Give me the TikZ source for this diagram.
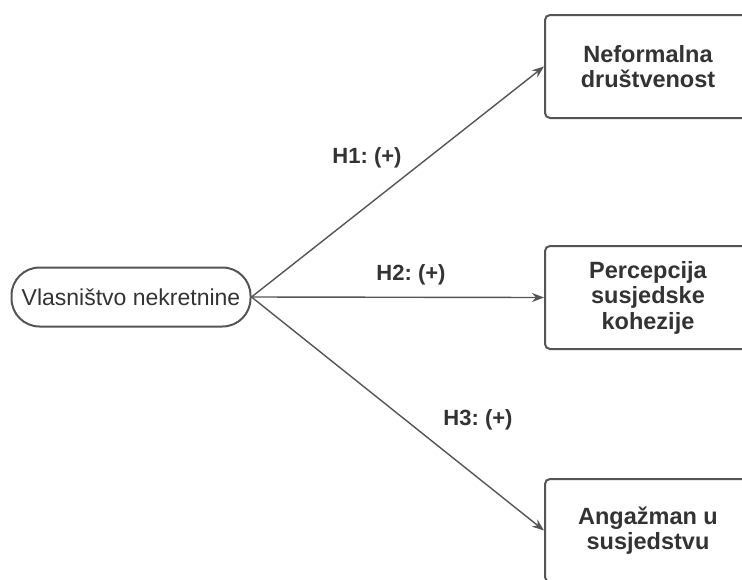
\documentclass[tikz,border=0pt]{standalone}
\usepackage{fontspec}
\setmainfont{Liberation Sans}
\usetikzlibrary{arrows.meta}
\definecolor{txt}{HTML}{333333}
\definecolor{ln}{HTML}{555555}
\frenchspacing
\begin{document}
\begin{tikzpicture}[x=1pt,y=-1pt,
  box/.style={draw=ln,line width=2pt,rounded corners=5pt,minimum width=206pt,minimum height=103pt,
    align=center,text=txt,font=\fontsize{23.5}{25.5}\selectfont\bfseries,inner sep=0pt},
  oval/.style={draw=ln,line width=2pt,rounded corners=28pt,minimum width=239pt,minimum height=59pt,
    text=txt,font=\fontsize{23}{26}\selectfont,inner sep=0pt},
  arr/.style={draw=ln,line width=1.4pt,-{Stealth[length=12pt,width=9pt]}},
  lab/.style={text=txt,font=\fontsize{22}{26}\selectfont\bfseries,inner sep=0pt}]
\useasboundingbox (0,0) rectangle (742,579);
\clip (0,0) rectangle (742,579);
\fill[white] (0,0) rectangle (742,579);
\node[oval] (ell) at (131,297) {Vlasništvo nekretnine};
\node[box] (b1) at (648,66.5) {Neformalna\\društvenost};
\node[box] (b2) at (648,297.5) {Percepcija\\susjedske\\kohezije};
\node[box] (b3) at (648,530.5) {Angažman u\\susjedstvu};
\draw[arr] (ell.east) -- (b1.west);
\draw[arr] (ell.east) -- (b2.west);
\draw[arr] (ell.east) -- (b3.west);
\node[lab] (h1) at (367,158) {H1: (+)};
\node[lab] (h2) at (411,275) {H2: (+)};
\node[lab] (h3) at (478,420) {H3: (+)};
\end{tikzpicture}
\end{document}
